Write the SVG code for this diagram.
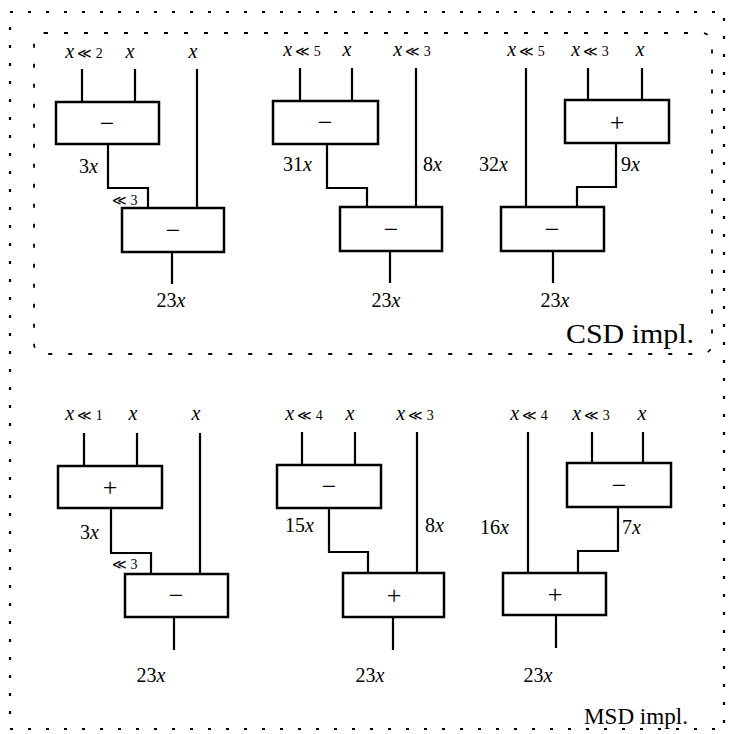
<svg xmlns="http://www.w3.org/2000/svg" width="733" height="734" viewBox="0 0 733 734">
<style>
.bg{fill:#fff}
.frame{fill:none;stroke:#000;stroke-width:2.2;stroke-dasharray:3 15}
.inner{fill:none;stroke:#000;stroke-width:1.8;stroke-dasharray:4 16}
.box{fill:#fff;stroke:#000;stroke-width:2.5}
.ln{fill:none;stroke:#000;stroke-width:2.2}
text{font-family:"Liberation Serif","Times New Roman",serif;fill:#000}
.in{font-size:20px;text-anchor:middle}
.lab{font-size:20px}
.res{font-size:20px;text-anchor:middle}
.op{font-size:26px;text-anchor:middle}
.cap{font-size:27px}
.i{font-style:italic}
.s{font-size:14px}
</style>
<rect class="bg" x="0" y="0" width="733" height="734"/>
<rect class="frame" x="10" y="12" width="714" height="717"/>
<rect class="inner" x="34" y="33" width="678" height="321" rx="10"/>
<g id="connectors">
<path class="ln" d="M82 69V102M135 69V102M197 69V208M108 144V188H148V208M172 252V284"/>
<path class="ln" d="M300 68V101M352 68V101M416 68V207M327 144V188H367V207M390 251V283"/>
<path class="ln" d="M526 68V207M588 68V100M642 68V100M616 143V187H577V207M553 251V283"/>
<path class="ln" d="M84 433V466M137 433V466M200 433V574M111 508V553H151V574M174 617V650"/>
<path class="ln" d="M302 432V465M355 432V465M417 432V573M329 508V552H368V573M393 617V650"/>
<path class="ln" d="M528 432V573M592 432V463M643 432V463M618 507V551H578V573M556 615V648"/>
</g>
<g id="csd1">
<rect class="box" x="56" y="102" width="103" height="42"/>
<text class="op" x="107" y="132">−</text>
<rect class="box" x="122" y="208" width="102" height="44"/>
<text class="op" x="173" y="239">−</text>
<text class="in" x="84" y="58"><tspan class="i">x</tspan><tspan class="s" dx="3">≪ 2</tspan></text>
<text class="in i" x="130" y="58">x</text>
<text class="in i" x="193" y="58">x</text>
<text class="lab" x="79" y="173">3<tspan class="i">x</tspan></text>
<text class="lab s" x="112" y="205">≪ 3</text>
<text class="res" x="171" y="307">23<tspan class="i">x</tspan></text>
</g>
<g id="csd2">
<rect class="box" x="273" y="101" width="105" height="43"/>
<text class="op" x="325" y="131">−</text>
<rect class="box" x="340" y="207" width="102" height="44"/>
<text class="op" x="391" y="238">−</text>
<text class="in" x="302" y="56"><tspan class="i">x</tspan><tspan class="s" dx="3">≪ 5</tspan></text>
<text class="in i" x="347" y="56">x</text>
<text class="in" x="412" y="56"><tspan class="i">x</tspan><tspan class="s" dx="3">≪ 3</tspan></text>
<text class="lab" x="283" y="171">31<tspan class="i">x</tspan></text>
<text class="lab" x="423" y="171">8<tspan class="i">x</tspan></text>
<text class="res" x="386" y="307">23<tspan class="i">x</tspan></text>
</g>
<g id="csd3">
<rect class="box" x="565" y="100" width="104" height="43"/>
<text class="op" x="617" y="131">+</text>
<rect class="box" x="501" y="207" width="103" height="44"/>
<text class="op" x="552" y="238">−</text>
<text class="in" x="526" y="56"><tspan class="i">x</tspan><tspan class="s" dx="3">≪ 5</tspan></text>
<text class="in" x="590" y="56"><tspan class="i">x</tspan><tspan class="s" dx="3">≪ 3</tspan></text>
<text class="in i" x="640" y="56">x</text>
<text class="lab" x="479" y="171">32<tspan class="i">x</tspan></text>
<text class="lab" x="621" y="171">9<tspan class="i">x</tspan></text>
<text class="res" x="555" y="307">23<tspan class="i">x</tspan></text>
<text class="cap" x="566" y="343" textLength="128" lengthAdjust="spacingAndGlyphs">CSD impl.</text>
</g>
<g id="msd1">
<rect class="box" x="58" y="466" width="104" height="42"/>
<text class="op" x="110" y="496">+</text>
<rect class="box" x="125" y="574" width="103" height="43"/>
<text class="op" x="176" y="604">−</text>
<text class="in" x="84" y="420"><tspan class="i">x</tspan><tspan class="s" dx="3">≪ 1</tspan></text>
<text class="in i" x="133" y="420">x</text>
<text class="in i" x="196" y="420">x</text>
<text class="lab" x="80" y="539">3<tspan class="i">x</tspan></text>
<text class="lab s" x="112" y="569">≪ 3</text>
<text class="res" x="151" y="682">23<tspan class="i">x</tspan></text>
</g>
<g id="msd2">
<rect class="box" x="277" y="465" width="104" height="43"/>
<text class="op" x="329" y="495">−</text>
<rect class="box" x="343" y="573" width="101" height="44"/>
<text class="op" x="394" y="604">+</text>
<text class="in" x="304" y="420"><tspan class="i">x</tspan><tspan class="s" dx="3">≪ 4</tspan></text>
<text class="in i" x="350" y="420">x</text>
<text class="in" x="415" y="420"><tspan class="i">x</tspan><tspan class="s" dx="3">≪ 3</tspan></text>
<text class="lab" x="285" y="532">15<tspan class="i">x</tspan></text>
<text class="lab" x="425" y="532">8<tspan class="i">x</tspan></text>
<text class="res" x="370" y="682">23<tspan class="i">x</tspan></text>
</g>
<g id="msd3">
<rect class="box" x="567" y="463" width="104" height="44"/>
<text class="op" x="619" y="494">−</text>
<rect class="box" x="503" y="573" width="103" height="42"/>
<text class="op" x="555" y="603">+</text>
<text class="in" x="529" y="420"><tspan class="i">x</tspan><tspan class="s" dx="3">≪ 4</tspan></text>
<text class="in" x="591" y="420"><tspan class="i">x</tspan><tspan class="s" dx="3">≪ 3</tspan></text>
<text class="in i" x="642" y="420">x</text>
<text class="lab" x="480" y="534">16<tspan class="i">x</tspan></text>
<text class="lab" x="622" y="534">7<tspan class="i">x</tspan></text>
<text class="res" x="538" y="682">23<tspan class="i">x</tspan></text>
<text class="cap" x="584" y="724" style="font-size:23px" textLength="104" lengthAdjust="spacingAndGlyphs">MSD impl.</text>
</g>
</svg>
